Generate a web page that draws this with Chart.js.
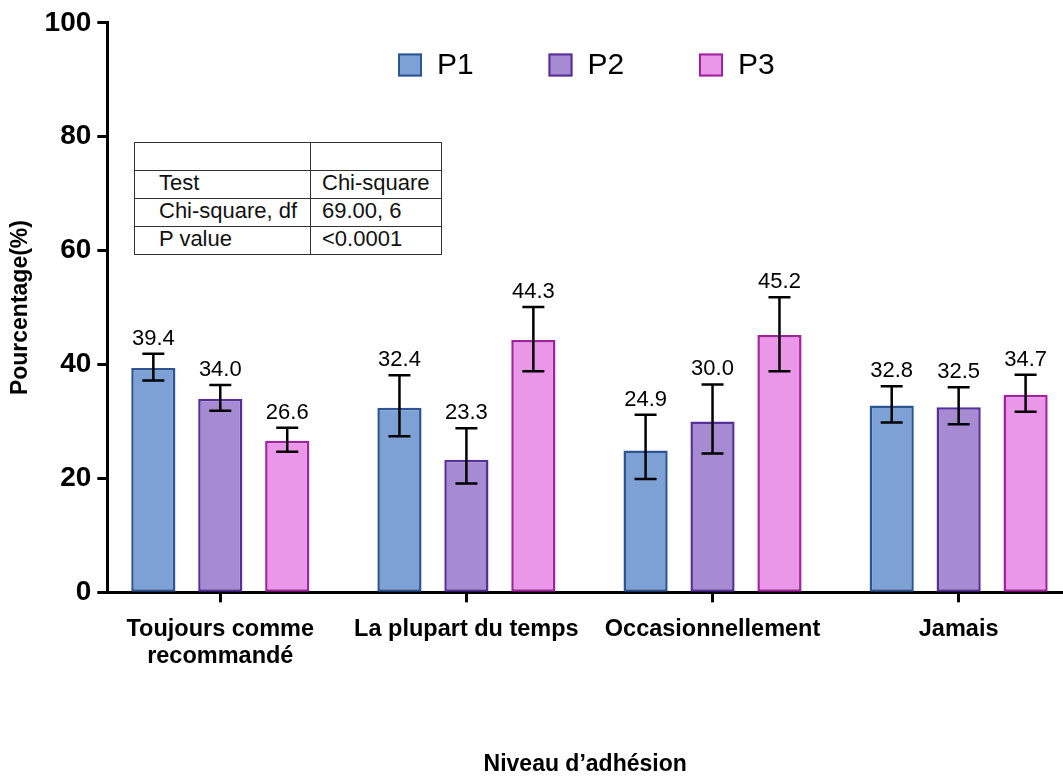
<!DOCTYPE html>
<html>
<head>
<meta charset="utf-8">
<script src="https://cdn.jsdelivr.net/npm/chart.js@4.4.1/dist/chart.umd.min.js"></script>
<style>
html, body { margin: 0; padding: 0; background: #fff; }
#wrap { position: relative; width: 1063px; height: 778px; overflow: hidden; }
#stats {
    position: absolute; left: 134px; top: 142px;
    border-collapse: collapse; table-layout: fixed;
    font: 22px Arial, "Liberation Sans", sans-serif; color: #111;
    background: #fff;
}
#stats td {
    border: 1px solid #333; height: 27px; line-height: 24px;
    vertical-align: top; white-space: nowrap; padding: 0;
}
#stats td.c1 { width: 151px; padding-left: 24px; }
#stats td.c2 { width: 119px; padding-left: 11px; }
</style>
</head>
<body>
<div id="wrap">
    <canvas id="chart" width="1063" height="778"></canvas>
    <table id="stats"></table>
</div>
<script>
// categories (x axis) and series
const categories = [['Toujours comme', 'recommandé'], 'La plupart du temps', 'Occasionnellement', 'Jamais'];
const seriesNames = ['P1', 'P2', 'P3'];

// percentages
const p1Values = [39.4, 32.4, 24.9, 32.8];
const p2Values = [34.0, 23.3, 30.0, 32.5];
const p3Values = [26.6, 44.3, 45.2, 34.7];

// error bar ends
const p1Low  = [37.2, 27.4, 19.9, 29.8];
const p1High = [41.9, 38.1, 31.2, 36.2];
const p2Low  = [31.9, 19.1, 24.4, 29.5];
const p2High = [36.4, 28.8, 36.5, 36.0];
const p3Low  = [24.7, 38.8, 38.8, 31.7];
const p3High = [28.9, 50.1, 51.8, 38.2];

const yTicks = [0, 20, 40, 60, 80, 100];

// chi-square table
const tableRows = [
    ['', ''],
    ['Test', 'Chi-square'],
    ['Chi-square, df', '69.00, 6'],
    ['P value', '<0.0001']
];

const fontFamily = 'Arial, "Liberation Sans", sans-serif';
Chart.defaults.font.family = fontFamily;
Chart.defaults.color = '#000';

// fill the table
const table = document.getElementById('stats');
tableRows.forEach(row => {
    const tr = document.createElement('tr');
    row.forEach((txt, i) => {
        const td = document.createElement('td');
        td.className = i === 0 ? 'c1' : 'c2';
        td.textContent = txt;
        tr.appendChild(td);
    });
    table.appendChild(tr);
});

// error bars + value labels above them
const errorBars = {
    id: 'errorBars',
    afterDatasetsDraw(chart) {
        const ctx = chart.ctx;
        const y = chart.scales.y;
        ctx.save();
        ctx.strokeStyle = '#000';
        ctx.lineWidth = 2.5;
        ctx.fillStyle = '#000';
        ctx.font = '22px ' + fontFamily;
        ctx.textAlign = 'center';
        ctx.textBaseline = 'alphabetic';
        chart.data.datasets.forEach((ds, di) => {
            const meta = chart.getDatasetMeta(di);
            meta.data.forEach((bar, i) => {
                const lo = y.getPixelForValue(ds.errLow[i]);
                const hi = y.getPixelForValue(ds.errHigh[i]);
                ctx.beginPath();
                ctx.moveTo(bar.x, lo);
                ctx.lineTo(bar.x, hi);
                ctx.moveTo(bar.x - 11, hi);
                ctx.lineTo(bar.x + 11, hi);
                ctx.moveTo(bar.x - 11, lo);
                ctx.lineTo(bar.x + 11, lo);
                ctx.stroke();
                ctx.fillText(ds.data[i].toFixed(1), bar.x, hi - 9);
            });
        });
        ctx.restore();
    }
};

// legend row inside the plot, like the original
const legendRow = {
    id: 'legendRow',
    afterDraw(chart) {
        const ctx = chart.ctx;
        ctx.save();
        ctx.font = '30px ' + fontFamily;
        ctx.textAlign = 'left';
        ctx.textBaseline = 'middle';
        chart.data.datasets.forEach((ds, i) => {
            const x = 398 + i * 150.5;
            const yc = 65;
            ctx.fillStyle = ds.backgroundColor;
            ctx.fillRect(x, yc - 11.5, 24, 23);
            ctx.strokeStyle = ds.borderColor;
            ctx.lineWidth = 2;
            ctx.strokeRect(x + 1, yc - 10.5, 22, 21);
            ctx.fillStyle = '#000';
            ctx.fillText(ds.label, x + 39, yc + 1);
        });
        ctx.restore();
    }
};

const ctx = document.getElementById('chart').getContext('2d');
new Chart(ctx, {
    type: 'bar',
    data: {
        labels: categories,
        datasets: [
            { label: seriesNames[0], data: p1Values, errLow: p1Low, errHigh: p1High,
              backgroundColor: '#7DA1D4', borderColor: '#2D5593' },
            { label: seriesNames[1], data: p2Values, errLow: p2Low, errHigh: p2High,
              backgroundColor: '#A68AD2', borderColor: '#55309A' },
            { label: seriesNames[2], data: p3Values, errLow: p3Low, errHigh: p3High,
              backgroundColor: '#EA96E9', borderColor: '#A0229E' }
        ]
    },
    options: {
        responsive: false,
        animation: false,
        layout: { padding: { top: 5, right: 0, bottom: 0, left: 0 } },
        datasets: {
            bar: {
                categoryPercentage: 0.816,
                barPercentage: 0.66,
                borderWidth: 2.5,
                borderSkipped: false
            }
        },
        plugins: {
            legend: { display: false },
            tooltip: { enabled: false }
        },
        scales: {
            x: {
                // GraphPad leaves less room left of the first group than the category axis would
                afterBuildTicks: s => { s._startValue = -0.459; s._valueRange = 3.883; },
                grid: { display: true, offset: false, drawOnChartArea: false, tickLength: 10, tickWidth: 3, tickColor: '#000' },
                border: { display: true, color: '#000', width: 3 },
                ticks: {
                    color: '#000', padding: 14, maxRotation: 0, autoSkip: false,
                    font: { size: 23.5, weight: 'bold', lineHeight: 1.15 }
                },
                title: {
                    display: true, text: 'Niveau d’adhésion', color: '#000',
                    font: { size: 23, weight: 'bold' },
                    padding: { top: 66, bottom: 0 }
                }
            },
            y: {
                min: yTicks[0],
                max: yTicks[yTicks.length - 1],
                afterBuildTicks: s => { s.ticks = yTicks.map(v => ({ value: v })); },
                grid: { display: true, drawOnChartArea: false, tickLength: 10, tickWidth: 3, tickColor: '#000' },
                border: { display: true, color: '#000', width: 3 },
                ticks: { color: '#000', padding: 6, font: { size: 28, weight: 'bold' } },
                title: {
                    display: true, text: 'Pourcentage(%)', color: '#000',
                    font: { size: 23, weight: 'bold' },
                    padding: { top: 7, bottom: 4 }
                }
            }
        }
    },
    plugins: [errorBars, legendRow]
});
</script>
</body>
</html>
